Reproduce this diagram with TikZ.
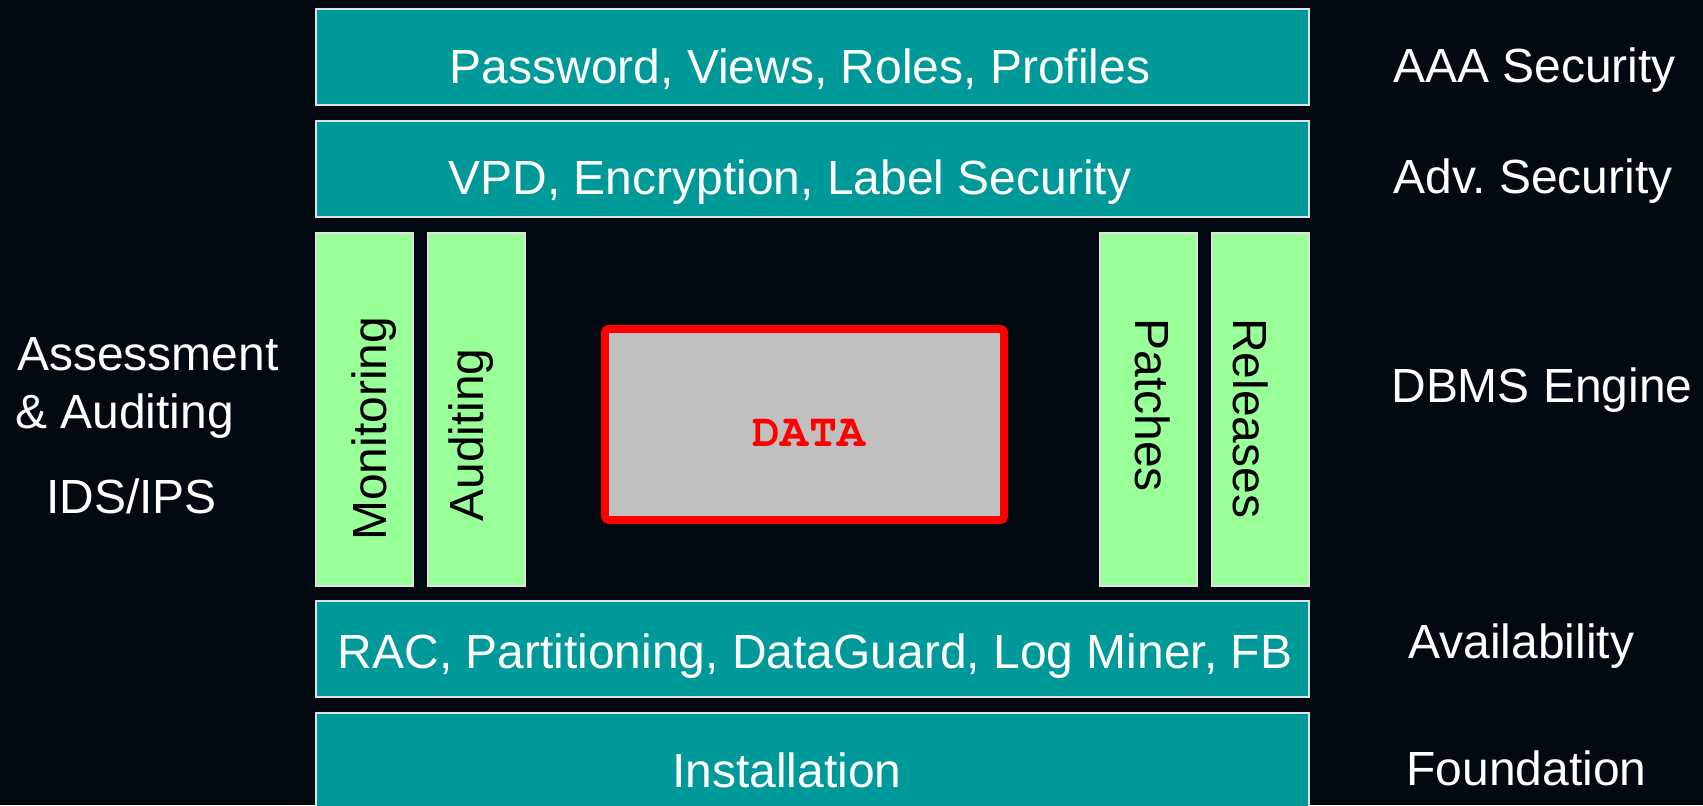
\documentclass[tikz,border=0pt]{standalone}
\usepackage[T1]{fontenc}
\usepackage{fontspec}
\setmainfont{Liberation Sans}
\usetikzlibrary{positioning}
\definecolor{bgdark}{RGB}{2,9,17}
\definecolor{tealfill}{RGB}{0,153,153}
\definecolor{mintfill}{RGB}{153,255,153}
\definecolor{datagray}{RGB}{192,192,192}
\definecolor{edgegray}{RGB}{225,225,225}
% bold Courier for the core label
\newcommand{\corefont}{\fontencoding{T1}\fontfamily{pcr}\fontseries{b}\fontsize{26.6}{30}\selectfont}

\begin{document}
\begin{tikzpicture}[x=0.02cm, y=-0.02cm,
  layer/.style={fill=tealfill, draw=edgegray, line width=0.6pt},
  pillar/.style={fill=mintfill, draw=edgegray, line width=0.6pt},
  bigtext/.style={font=\fontsize{27.3}{33}\selectfont, inner sep=0pt},
  layertext/.style={bigtext, text=white, anchor=base},
  sidelabel/.style={bigtext, text=white, anchor=base west},
  pillartext/.style={bigtext, text=black, anchor=base west}]
\clip (0,0) rectangle (1703,805);
\fill[bgdark] (0,0) rectangle (1703,805);
% horizontal layers
\foreach \y/\h in {9/96, 121/96, 601/96, 713/120}
  \draw[layer] (316,\y) rectangle ++(993,\h);
% vertical pillars
\foreach \x in {316,428,1100,1212}
  \draw[pillar] (\x,233) rectangle ++(97,353);
% the data core
\draw[fill=datagray, draw=red, line width=4.5pt, rounded corners=2pt] (605,329) rectangle (1004,520);
\node[inner sep=0pt, anchor=base, text=red, font=\corefont] (data) at (809,446) {DATA};

\node[layertext] (aaa) at (800,83) {Password, Views, Roles, Profiles};
\node[layertext] (adv) at (790,194) {VPD, Encryption, Label Security};
\node[layertext] (avail) at (815,668) {RAC, Partitioning, DataGuard, Log Miner, FB};
\node[layertext] (inst) at (787,787) {Installation};

\node[pillartext, rotate=90] (mon) at (386,541) {Monitoring};
\node[pillartext, rotate=90] (aud) at (483,522) {Auditing};
\node[pillartext, rotate=-90] (pat) at (1135,318) {Patches};
\node[pillartext, rotate=-90] (rel) at (1233,318) {Releases};

% labels, left side
\node[sidelabel] (assess) at (17,370) {Assessment};
\node[sidelabel] (andaud) at (15,428) {\& Auditing};
\node[sidelabel] (ids) at (46,513) {IDS/IPS};
% labels, right side
\node[sidelabel] (lbaaa) at (1393,82) {AAA Security};
\node[sidelabel] (lbadv) at (1393,193) {Adv.\ Security};
\node[sidelabel] (lbdbms) at (1391,402) {DBMS Engine};
\node[sidelabel] (lbavail) at (1408,658) {Availability};
\node[sidelabel] (lbfound) at (1406,785) {Foundation};
\end{tikzpicture}
\end{document}
